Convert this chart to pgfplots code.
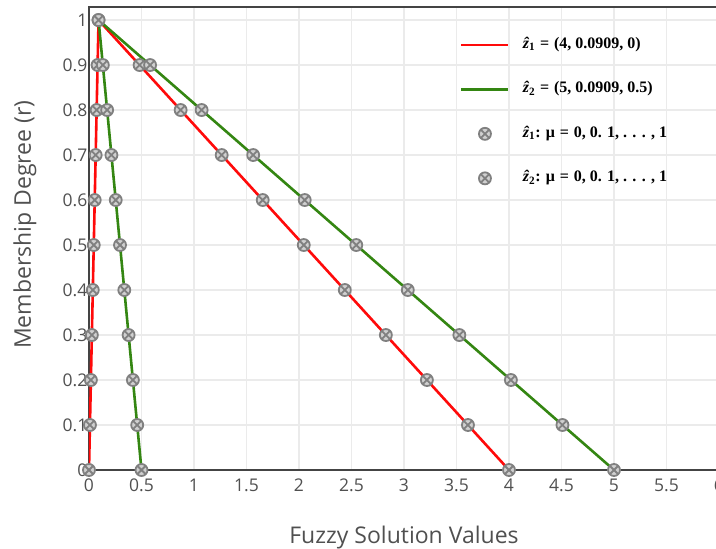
\documentclass[border=0pt]{standalone}
\usepackage{fontspec}
\setmainfont{Open Sans}
\newfontfamily\legfont{Liberation Serif}
\usepackage{pgfplots}
\pgfplotsset{compat=1.18}
\usetikzlibrary{plotmarks}

\definecolor{txtgray}{HTML}{505050}
\definecolor{gridgray}{HTML}{EBEBEB}
\definecolor{axgray}{HTML}{444444}
\definecolor{zred}{RGB}{255,10,10}
\definecolor{zgreen}{RGB}{52,134,18}
\definecolor{mkgray}{HTML}{808080}
\definecolor{mkfill}{HTML}{D0D0D0}

\newcommand{\zh}[1]{\textit{\^{z}}\textsubscript{#1}}
\newcommand{\eq}{\hspace{0.3em}=\hspace{0.3em}}

\pgfplotsset{
    cutpts/.style={only marks, mark=otimes*, mark size=6bp,
        mark options={draw=mkgray, fill=mkfill, line width=1.8bp},
        legend image code/.code={\draw[##1] plot coordinates {(23.5bp,0bp)};}},
}

\begin{document}
\begin{tikzpicture}
\begin{axis}[
    scale only axis,
    width=630bp, height=463bp,
    xmin=0, xmax=6, ymin=0, ymax=1.029,
    xtick={0,0.5,...,6},
    ytick={0,0.1,...,1},
    major tick length=0pt,
    grid=major,
    major grid style={gridgray, line width=1.3bp},
    axis line style={axgray, line width=1.8bp},
    tick label style={txtgray, font=\fontsize{17.5bp}{20bp}\selectfont},
    /pgf/number format/assume math mode=true,
    xticklabel style={inner sep=0pt, yshift=-9bp},
    yticklabel style={inner sep=1.5bp},
    xlabel={Fuzzy Solution Values},
    ylabel={Membership Degree (r)},
    label style={txtgray, font=\fontsize{23bp}{26bp}\selectfont},
    xlabel style={at={(axis description cs:0.5,-0.145)}, anchor=center},
    ylabel style={at={(axis description cs:-0.1016,0.53)}, anchor=center},
    legend image code/.code={\draw[#1] (0bp,0bp) -- (47bp,0bp);},
    legend style={
        at={(axis cs:3.533,0.962)}, anchor=north west,
        draw=none, fill=none, inner sep=0pt,
        row sep=29.5bp, column sep=13bp,
        nodes={inner sep=0pt, anchor=west, text height=11bp, text depth=4bp,
               font=\legfont\bfseries\fontsize{16bp}{18bp}\selectfont},
    },
    legend cell align=left,
]
% triangular membership functions
\addplot[zred, line width=2.6bp] coordinates {(0,0) (0.0909,1) (4,0)};
\addplot[zgreen, line width=2.6bp] coordinates {(0.5,0) (0.0909,1) (5,0)};

% alpha-cut points of z1
\addplot[cutpts] coordinates {
    (0,0) (0.00909,0.1) (0.01818,0.2) (0.02727,0.3) (0.03636,0.4) (0.04545,0.5)
    (0.05454,0.6) (0.06363,0.7) (0.07272,0.8) (0.08181,0.9) (0.0909,1)
    (0.48181,0.9) (0.87272,0.8) (1.26363,0.7) (1.65454,0.6) (2.04545,0.5)
    (2.43636,0.4) (2.82727,0.3) (3.21818,0.2) (3.60909,0.1) (4,0)};
% alpha-cut points of z2
\addplot[cutpts] coordinates {
    (0.5,0) (0.45909,0.1) (0.41818,0.2) (0.37727,0.3) (0.33636,0.4) (0.29545,0.5)
    (0.25454,0.6) (0.21363,0.7) (0.17272,0.8) (0.13181,0.9) (0.0909,1)
    (0.58181,0.9) (1.07272,0.8) (1.56363,0.7) (2.05454,0.6) (2.54545,0.5)
    (3.03636,0.4) (3.52727,0.3) (4.01818,0.2) (4.50909,0.1) (5,0)};
\legend{{\zh{1}\eq(4, 0.0909, 0)}, {\zh{2}\eq(5, 0.0909, 0.5)},
        {\zh{1}: μ\eq0, 0. 1, . . . , 1}, {\zh{2}: μ\eq0, 0. 1, . . . , 1}}
\end{axis}
\pgfresetboundingbox
\useasboundingbox (-89bp,-79bp) rectangle (627bp,470bp);
\end{tikzpicture}
\end{document}
